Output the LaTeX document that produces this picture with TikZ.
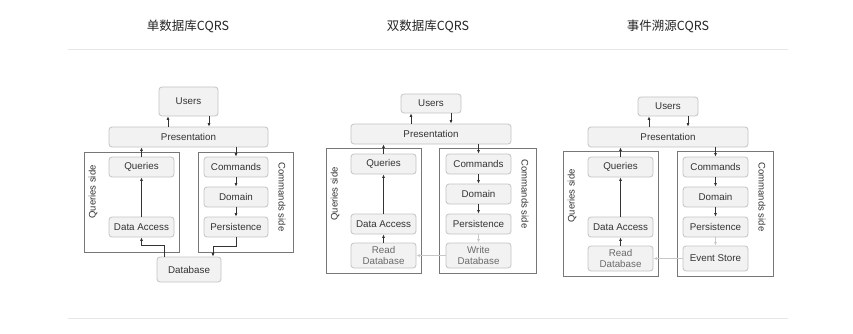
\documentclass[tikz,border=0pt]{standalone}
\usepackage{fontspec}
\setmainfont{Liberation Sans}
\newfontfamily\cjk{Noto Sans CJK SC}
\usetikzlibrary{arrows.meta,calc}
\definecolor{boxfill}{HTML}{F2F2F2}
\definecolor{boxline}{HTML}{C4C4C4}
\definecolor{frameline}{HTML}{777777}
\definecolor{txt}{HTML}{333333}
\definecolor{lighttxt}{HTML}{6A6A6A}
\definecolor{arrowc}{HTML}{333333}
\definecolor{lightarrow}{HTML}{C8C8C8}
\definecolor{sepline}{HTML}{E6E6E6}
\tikzset{
  x=1pt,y=-1pt,
  box/.style={draw=boxline,fill=boxfill,rounded corners=3pt,line width=0.8pt,
    text=txt,font=\fontsize{9.8}{11.8}\selectfont,inner sep=0pt,align=center,
    minimum width=65pt,minimum height=20pt},
  frame/.style={draw=frameline,line width=0.8pt},
  arr/.style={draw=arrowc,line width=0.7pt,-{Latex[length=3.5pt,width=3pt]}},
  larr/.style={draw=lightarrow,line width=0.7pt,-{Latex[length=3.5pt,width=3pt]}},
  sidelabel/.style={text=txt,font=\fontsize{9.5}{11}\selectfont,inner sep=0pt},
  title/.style={text=black!85,font=\cjk\fontsize{12.5}{14}\selectfont,inner sep=0pt}
}
\begin{document}
\begin{tikzpicture}
\useasboundingbox[fill=white] (0,0) rectangle (853,334);
% separators
\coordinate (sepTL) at (68,49); \coordinate (sepTR) at (788,49);
\coordinate (sepBL) at (68,318); \coordinate (sepBR) at (788,318);
\draw[sepline,line width=0.8pt] (sepTL) -- (sepTR);
\draw[sepline,line width=0.8pt] (sepBL) -- (sepBR);
% titles
\node[title] (t1) at (188,26) {单数据库CQRS};
\node[title] (t2) at (428,26) {双数据库CQRS};
\node[title] (t3) at (668,26) {事件溯源CQRS};

% ===== Diagram 1 =====
\draw[frame] (84,152) rectangle (179,252);
\draw[frame] (198,152) rectangle (293,252);
\node[box,minimum width=59pt,minimum height=29pt] (users1) at (188.5,101.5) {Users};
\node[box,minimum width=159pt] (pres1) at (188.5,137) {Presentation};
\node[box] (q1) at (141.5,167) {Queries};
\node[box] (da1) at (141.5,227) {Data Access};
\node[box,minimum width=64pt] (cmd1) at (236,167) {Commands};
\node[box,minimum width=64pt] (dom1) at (236,197) {Domain};
\node[box,minimum width=64pt] (per1) at (236,227) {Persistence};
\node[box,minimum width=64pt,minimum height=25pt] (db1) at (189,269.5) {Database};
\node[sidelabel,rotate=90] (ql1) at (93,192) {Queries side};
\node[sidelabel,rotate=-90] (cl1) at (282,197) {Commands side};
\draw[arr] ([xshift=-20.5pt]pres1.north) -- ([xshift=-20.5pt]users1.south);
\draw[arr] ([xshift=20.5pt]users1.south) -- ([xshift=20.5pt]pres1.north);
\draw[arr] (q1.north) -- (q1.north |- pres1.south);
\draw[arr] (pres1.south -| cmd1) -- (cmd1.north);
\draw[arr] (cmd1) -- (dom1);
\draw[arr] (dom1) -- (per1);
\draw[arr] (da1) -- (q1);
\draw[arr] ([xshift=-25pt]db1.north) -- ++(0,-11) -| (da1.south);
\draw[arr] (per1.south) -- ++(0,9) -| ([xshift=24pt]db1.north);

% ===== Diagram 2 =====
\draw[frame] (326,148) rectangle (421,273);
\draw[frame] (439,148) rectangle (536,273);
\node[box,minimum width=60pt,minimum height=19pt] (users2) at (431,103.5) {Users};
\node[box,minimum width=160pt] (pres2) at (431,134) {Presentation};
\node[box] (q2) at (383.5,164) {Queries};
\node[box] (da2) at (383.5,224) {Data Access};
\node[box,minimum height=25pt,text=lighttxt] (rdb2) at (383.5,255.5) {Read\\Database};
\node[box] (cmd2) at (478.5,164) {Commands};
\node[box] (dom2) at (478.5,194) {Domain};
\node[box] (per2) at (478.5,224) {Persistence};
\node[box,minimum height=25pt,text=lighttxt] (wdb2) at (478.5,255.5) {Write\\Database};
\node[sidelabel,rotate=90] (ql2) at (335,194) {Queries side};
\node[sidelabel,rotate=-90] (cl2) at (525,194) {Commands side};
\draw[arr] ([xshift=-20pt]pres2.north) -- ([xshift=-20pt]users2.south);
\draw[arr] ([xshift=20pt]users2.south) -- ([xshift=20pt]pres2.north);
\draw[arr] (q2.north) -- (q2.north |- pres2.south);
\draw[arr] (pres2.south -| cmd2) -- (cmd2.north);
\draw[arr] (cmd2) -- (dom2);
\draw[arr] (dom2) -- (per2);
\draw[arr] (da2) -- (q2);
\draw[arr] (rdb2) -- (da2);
\draw[larr] (per2) -- (wdb2);
\draw[larr] (wdb2) -- (rdb2);

% ===== Diagram 3 =====
\draw[frame] (563,151) rectangle (658,276);
\draw[frame] (677,151) rectangle (773,276);
\node[box,minimum width=60pt,minimum height=19pt] (users3) at (668,106.5) {Users};
\node[box,minimum width=160pt] (pres3) at (668,137) {Presentation};
\node[box] (q3) at (620.5,167) {Queries};
\node[box] (da3) at (620.5,227) {Data Access};
\node[box,minimum height=25pt,text=lighttxt] (rdb3) at (620.5,258.5) {Read\\Database};
\node[box] (cmd3) at (715.5,167) {Commands};
\node[box] (dom3) at (715.5,197) {Domain};
\node[box] (per3) at (715.5,227) {Persistence};
\node[box,minimum height=25pt] (es3) at (715.5,258.5) {Event Store};
\node[sidelabel,rotate=90] (ql3) at (572,196) {Queries side};
\node[sidelabel,rotate=-90] (cl3) at (762,197) {Commands side};
\draw[arr] ([xshift=-19pt]pres3.north) -- ([xshift=-19pt]users3.south);
\draw[arr] ([xshift=20pt]users3.south) -- ([xshift=20pt]pres3.north);
\draw[arr] (q3.north) -- (q3.north |- pres3.south);
\draw[arr] (pres3.south -| cmd3) -- (cmd3.north);
\draw[arr] (cmd3) -- (dom3);
\draw[arr] (dom3) -- (per3);
\draw[arr] (da3) -- (q3);
\draw[arr] (rdb3) -- (da3);
\draw[larr] (per3) -- (es3);
\draw[larr] (es3) -- (rdb3);
\end{tikzpicture}
\end{document}
